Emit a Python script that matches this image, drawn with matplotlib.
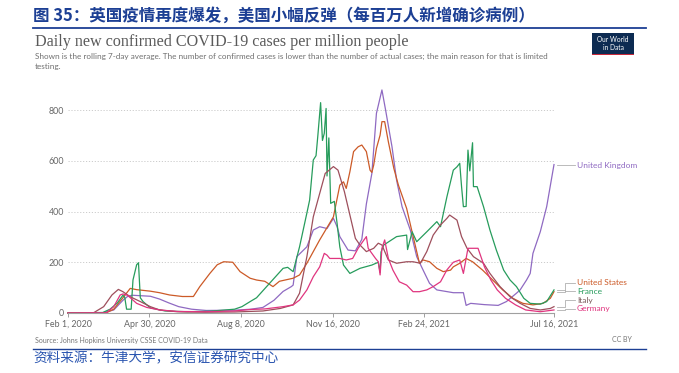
import matplotlib
matplotlib.use("Agg")
import matplotlib.pyplot as plt
from matplotlib.lines import Line2D
from matplotlib.patches import Rectangle
import pandas as pd

W, H = 679, 373

START = "2020-02-01"
tick_labels = ["Feb 1, 2020", "Apr 30, 2020", "Aug 8, 2020", "Nov 16, 2020", "Feb 24, 2021", "Jul 16, 2021"]
y_ticks = [0, 200, 400, 600, 800]

countries = ["United Kingdom", "United States", "France", "Italy", "Germany"]

# days since 2020-02-01 and 7-day average cases per million
uk_days = [0, 38, 50, 60, 65, 70, 80, 90, 100, 110, 121, 135, 151, 182, 200, 213, 225, 235, 244, 246,
           250, 261, 268, 275, 283, 290, 294, 297, 306, 314, 321, 326, 332, 337, 343, 347, 354, 359,
           365, 374, 381, 388, 395, 403, 421, 432, 435, 440, 455, 470, 479, 490, 494, 501, 505, 508,
           516, 523, 531]
uk_vals = [0, 1, 12, 50, 65, 70, 68, 66, 55, 40, 25, 15, 10, 11, 15, 22, 50, 85, 104, 110,
           222, 261, 327, 340, 333, 373, 340, 301, 248, 245, 290, 430, 550, 787, 879, 800, 655, 524,
           419, 327, 222, 169, 117, 91, 80, 80, 30, 38, 33, 30, 45, 78, 91, 130, 156, 235,
           320, 419, 585]

us_days = [0, 42, 50, 60, 68, 75, 90, 100, 111, 125, 137, 144, 155, 163, 170, 180, 188, 199, 206,
           215, 224, 231, 246, 253, 261, 275, 290, 297, 301, 304, 308, 312, 317, 321, 326, 330, 332,
           334, 337, 341, 343, 346, 350, 356, 361, 370, 375, 381, 384, 388, 395, 403, 410, 418, 421,
           428, 435, 442, 453, 464, 475, 486, 497, 508, 519, 527, 531]
us_vals = [0, 1, 15, 60, 97, 92, 86, 80, 71, 65, 65, 104, 156, 190, 202, 200, 163, 137, 130,
           125, 104, 125, 137, 150, 196, 288, 379, 504, 517, 491, 557, 636, 655, 662, 636, 563, 554,
           583, 649, 701, 754, 754, 675, 570, 504, 412, 334, 242, 196, 209, 202, 176, 163, 169, 182,
           196, 215, 202, 169, 130, 91, 58, 38, 32, 38, 58, 84]

fr_days = [0, 38, 46, 54, 60, 62, 64, 69, 71, 75, 77, 79, 82, 90, 106, 130, 155, 182, 190, 199,
           206, 217, 226, 235, 240, 246, 253, 261, 264, 268, 271, 273, 276, 278, 280, 282, 283, 285,
           287, 291, 294, 297, 301, 308, 319, 332, 339, 341, 342, 345, 359, 370, 371, 376, 381, 392,
           403, 407, 414, 421, 425, 428, 430, 432, 435, 437, 439, 442, 443, 447, 454, 461, 468, 476,
           483, 490, 498, 505, 516, 523, 531]
fr_vals = [0, 2, 15, 40, 70, 62, 15, 15, 130, 190, 198, 60, 45, 20, 8, 5, 7, 15, 25, 45,
           60, 104, 140, 176, 180, 163, 261, 394, 445, 603, 620, 700, 829, 680, 708, 806, 540, 690,
           432, 440, 353, 260, 189, 156, 176, 189, 200, 160, 240, 268, 301, 307, 250, 320, 281, 320,
           360, 340, 458, 563, 576, 590, 498, 419, 420, 642, 560, 671, 498, 498, 419, 327, 248, 169,
           130, 104, 58, 38, 35, 45, 91]

it_days = [0, 28, 39, 48, 55, 60, 68, 79, 90, 100, 119, 150, 182, 213, 232, 246, 253, 261, 268,
           274, 281, 290, 295, 302, 308, 314, 319, 326, 334, 339, 343, 350, 359, 370, 377, 385, 392,
           399, 407, 414, 417, 425, 430, 436, 443, 454, 461, 472, 483, 494, 505, 516, 527, 531]
it_vals = [0, 1, 25, 71, 93, 84, 64, 45, 25, 12, 5, 3, 4, 8, 18, 32, 78, 222, 379,
           458, 550, 577, 563, 478, 386, 294, 268, 242, 255, 275, 268, 209, 196, 202, 202, 196, 242,
           307, 347, 373, 386, 366, 301, 255, 222, 196, 156, 104, 64, 38, 18, 12, 18, 25]

de_days = [0, 42, 50, 57, 60, 65, 75, 86, 100, 120, 150, 182, 200, 215, 235, 246, 253, 261, 268,
           275, 280, 283, 286, 297, 304, 311, 317, 322, 326, 328, 332, 336, 339, 341, 343, 346, 350,
           355, 362, 370, 377, 384, 392, 399, 407, 414, 421, 428, 432, 437, 444, 448, 455, 462, 469,
           478, 489, 500, 516, 531]
de_vals = [0, 1, 25, 71, 75, 70, 38, 22, 12, 6, 5, 8, 14, 16, 25, 32, 51, 91, 143,
           182, 235, 228, 215, 215, 209, 215, 255, 281, 301, 255, 235, 215, 202, 150, 255, 288, 215,
           169, 123, 110, 84, 84, 91, 104, 123, 170, 200, 209, 156, 255, 255, 255, 182, 130, 91,
           58, 32, 12, 5, 12]

label_vals = [583, 119, 85, 51, 16]

colors = ["#8f6ac2", "#cc5a27", "#279c5c", "#9e4f5c", "#e0357f"]
label_colors = ["#8f6ac2", "#cc5a27", "#279c5c", "#7a5a5a", "#e0357f"]

series = [(uk_days, uk_vals), (us_days, us_vals), (fr_days, fr_vals), (it_days, it_vals), (de_days, de_vals)]

plt.rcParams["font.family"] = ["Lato", "DejaVu Sans"]

fig = plt.figure(figsize=(W / 100, H / 100), dpi=100)
fig.patch.set_facecolor("white")


def fx(x):
    return x / W


def fy(y):
    return 1 - y / H


cjk = ["Noto Sans CJK SC", "DejaVu Sans"]
blue = "#1c3f94"
fig.text(fx(33), fy(16), "图 35：英国疫情再度爆发，美国小幅反弹（每百万人新增确诊病例）",
         fontsize=11.9, fontweight="bold", color=blue, va="center", ha="left", family=cjk)
fig.add_artist(Line2D([fx(33), fx(646)], [fy(27.5), fy(27.5)], color=blue, lw=1.3))

fig.text(fx(35), fy(42), "Daily new confirmed COVID-19 cases per million people",
         fontsize=11.6, color="#5a5a5a", va="center", ha="left", family="Liberation Serif")
fig.text(fx(35), fy(56.5), "Shown is the rolling 7-day average. The number of confirmed cases is lower than the number of actual cases; the main reason for that is limited",
         fontsize=5.85, color="#707070", va="center", ha="left")
fig.text(fx(35), fy(66), "testing.", fontsize=5.85, color="#707070", va="center", ha="left")

# OWID logo
fig.add_artist(Rectangle((fx(592), fy(55)), fx(634) - fx(592), fy(33) - fy(55),
                         transform=fig.transFigure, facecolor="#0d2b52", edgecolor="none"))
fig.add_artist(Rectangle((fx(592), fy(55)), fx(634) - fx(592), fy(53.5) - fy(55),
                         transform=fig.transFigure, facecolor="#c8283a", edgecolor="none"))
fig.text(fx(613), fy(43.5), "Our World\nin Data", fontsize=4.8, color="white", ha="center", va="center",
         linespacing=1.0)

x0, x1 = 68, 554
ybase, ytop = 313, 313 - 900 * (203 / 800)
ax = fig.add_axes([fx(x0), 1 - ybase / H, (x1 - x0) / W, (ybase - ytop) / H])
ax.set_xlim(0, 531)
ax.set_ylim(0, 900)
for s in ["top", "right", "left"]:
    ax.spines[s].set_visible(False)
ax.spines["bottom"].set_color("#a0a0a0")
ax.spines["bottom"].set_linewidth(0.8)

start = pd.Timestamp(START)
tick_pos = [(pd.Timestamp(t) - start).days for t in tick_labels]
ax.set_xticks(tick_pos)
ax.set_xticklabels(tick_labels)
ax.tick_params(axis="x", length=3, color="#a0a0a0", width=0.7, labelsize=6.4, labelcolor="#666666", pad=2)
ax.set_yticks(y_ticks)
ax.set_yticklabels([str(v) for v in y_ticks])
ax.tick_params(axis="y", length=0, labelsize=6.4, labelcolor="#666666", pad=3)
ax.yaxis.grid(True, linestyle=(0, (1.2, 1.8)), color="#cccccc", lw=0.7)
ax.set_axisbelow(True)

for (d, v), c in zip(series, colors):
    ax.plot(d, v, color=c, lw=0.9, solid_joinstyle="round", clip_on=False)

# end labels with connectors
ppd = 486 / 531  # pixels per day
for name, (d, v), lv, lc in zip(countries, series, label_vals, label_colors):
    ev = v[-1]
    xa = 531 + 3 / ppd
    xb = 531 + 11 / ppd
    xc = 531 + 21 / ppd
    ax.plot([xa, xb, xb, xc], [ev, ev, lv, lv], color="#b0b0b0", lw=0.6, clip_on=False)
    ax.text(531 + 23 / ppd, lv, name, fontsize=6, color=lc, va="center", ha="left", clip_on=False)

fig.text(fx(35), fy(340), "Source: Johns Hopkins University CSSE COVID-19 Data", fontsize=5, color="#777777",
         va="center", ha="left")
fig.text(fx(632), fy(340), "CC BY", fontsize=5, color="#777777", va="center", ha="right")
fig.add_artist(Line2D([fx(33), fx(646)], [fy(348.5), fy(348.5)], color=blue, lw=1.0))
fig.text(fx(33), fy(358), "资料来源：牛津大学，安信证券研究中心", fontsize=9.8, color="#2a55b0",
         va="center", ha="left", family=cjk, style="italic")

fig.savefig("out.png", dpi=100, facecolor="white")
